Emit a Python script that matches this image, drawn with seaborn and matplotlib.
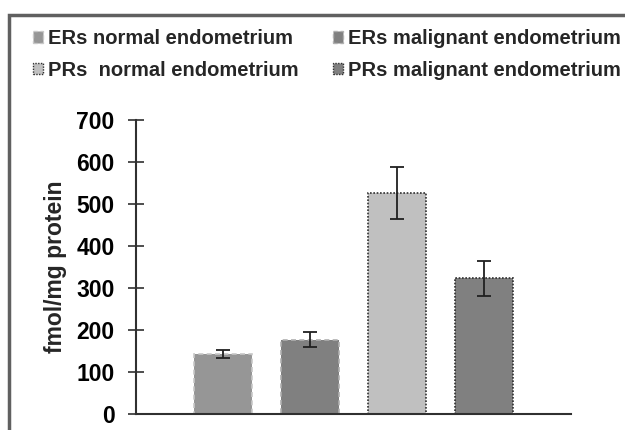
import numpy as np
import matplotlib
matplotlib.use("Agg")
import matplotlib.pyplot as plt
import seaborn as sns
import pandas as pd
from matplotlib.patches import Rectangle

# Data
groups = ["ERs normal endometrium", "ERs malignant endometrium",
          "PRs  normal endometrium", "PRs malignant endometrium"]
means = [143, 177, 526, 323]
errors = [10, 18, 62, 42]

fill_colors = ["#969696", "#808080", "#c0c0c0", "#808080"]
edge_colors = ["#c8c8c8", "#b0b0b0", "#303030", "#303030"]
edge_styles = [(0, (3, 2)), (0, (3, 2)), (0, (1, 1)), (0, (1, 1))]

df = pd.DataFrame({"group": groups, "value": means})

sns.set_style("white")
plt.rcParams["font.family"] = ["Liberation Sans", "DejaVu Sans"]
plt.rcParams["font.weight"] = "bold"

fig = plt.figure(figsize=(6.25, 4.3), dpi=100)
ax = fig.add_axes([136 / 625, 16 / 430, 435 / 625, 294 / 430])

sns.barplot(data=df, x="group", y="value", hue="group", palette=fill_colors,
            width=0.667, legend=False, ax=ax, errorbar=None, saturation=1)

for patch, ec, ls in zip(ax.patches, edge_colors, edge_styles):
    patch.set_edgecolor(ec)
    patch.set_linestyle(ls)
    patch.set_linewidth(1.2)

ax.errorbar(range(len(means)), means, yerr=errors, fmt="none",
            ecolor="#202020", elinewidth=1.3, capsize=5, capthick=1.3)

ax.set_ylim(0, 700)
ax.set_xlim(-1.0, 4.0)
ax.set_yticks(range(0, 701, 100))
ax.set_xticks([])
ax.set_xlabel("")
ax.set_ylabel("fmol/mg protein", fontsize=16.5, fontweight="bold")
ax.yaxis.set_label_coords(-0.158, 0.5)
ax.tick_params(axis="y", left=True, direction="inout", length=11, width=1.2,
               labelsize=16.5, colors="#303030", pad=10)
for lab in ax.get_yticklabels():
    lab.set_fontweight("bold")
    lab.set_color("black")
for s in ["top", "right"]:
    ax.spines[s].set_visible(False)
for s in ["left", "bottom"]:
    ax.spines[s].set_color("#303030")
    ax.spines[s].set_linewidth(1.5)

# legend, filled row by row like the original
handles = []
for fc, ec, ls in zip(fill_colors, edge_colors, edge_styles):
    handles.append(Rectangle((0, 0), 1, 1, facecolor=fc, edgecolor=ec,
                             linestyle=ls, linewidth=1))
order = [0, 2, 1, 3]
fig.legend(handles=[handles[i] for i in order],
           labels=[groups[i] for i in order], loc="upper left",
           bbox_to_anchor=(0.033, 0.96), ncol=2, frameon=False,
           prop={"size": 14.5, "weight": "bold"}, handlelength=0.5,
           handleheight=0.5, handletextpad=0.25, columnspacing=1.7,
           labelspacing=0.62, borderaxespad=0.2)

# outer frame
fig.patches.append(Rectangle((9 / 625, -0.1), 1.2, 1 - 15 / 430 + 0.1,
                             transform=fig.transFigure, fill=False,
                             edgecolor="#606060", linewidth=2.5))

fig.savefig("out.png", dpi=100)
